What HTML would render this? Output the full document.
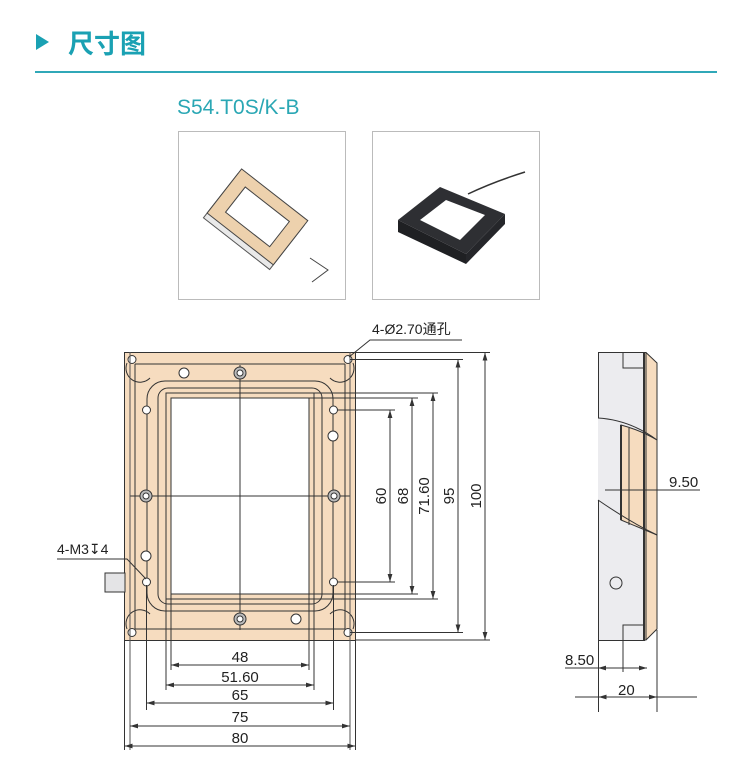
<!DOCTYPE html>
<html><head><meta charset="utf-8"><style>
html,body{margin:0;padding:0;background:#fff;width:750px;height:778px;overflow:hidden}
svg{display:block}
text{font-family:"Liberation Sans","Noto Sans CJK SC",sans-serif}
</style></head><body>
<svg width="750" height="778" viewBox="0 0 750 778" xmlns="http://www.w3.org/2000/svg">
<defs>
<marker id="a" viewBox="0 0 10 6" refX="10" refY="3" markerWidth="8" markerHeight="5" orient="auto-start-reverse"><path d="M0,0L10,3L0,6z" fill="#333"/></marker>
</defs>
<!-- header -->
<polygon points="36,34 36,50 49,42" fill="#1aa1b3"/>
<text x="68" y="53" font-size="26" font-weight="bold" fill="#1aa1b3" font-family="Noto Sans CJK SC,sans-serif">尺寸图</text>
<rect x="35" y="71" width="682" height="2" fill="#30a8b8"/>
<text x="177" y="114" font-size="21" fill="#2aa7b4">S54.T0S/K-B</text>
<!-- thumbnails -->
<rect x="178.5" y="131.5" width="167" height="168" fill="#fff" stroke="#bbb"/>
<rect x="372.5" y="131.5" width="167" height="168" fill="#fff" stroke="#bbb"/>
<g transform="translate(255,220) rotate(38)">
<rect x="-42" y="-26" width="84" height="56" fill="#e9e9e9" stroke="#555"/>
<rect x="-42" y="-32" width="84" height="56" fill="#edd1ad" stroke="#444"/>
<rect x="-28" y="-20" width="56" height="32" fill="#fff" stroke="#444"/>
</g>
<path d="M310,258 l18,12 l-16,12" fill="none" stroke="#444"/>
<polygon points="398,220 440,187 505,214 466,254" fill="#2e2f33"/>
<polygon points="398,220 466,254 466,264 398,232" fill="#1f2023"/>
<polygon points="466,254 505,214 505,224 466,264" fill="#25262a"/>
<polygon points="420,220 446,200 485,215 460,240" fill="#fff"/>
<path d="M468,194 q25,-12 57,-22" stroke="#333" stroke-width="1.5" fill="none"/>
<!-- main plate -->
<g stroke="#333" stroke-width="1" fill="none">
<rect x="124.5" y="352.5" width="231" height="288" fill="#f6dcbf"/>
<line x1="135" y1="364" x2="135" y2="629"/><line x1="345" y1="364" x2="345" y2="629"/>
<line x1="135" y1="364" x2="345" y2="364"/><line x1="135" y1="629" x2="345" y2="629"/>
<rect x="147" y="381" width="186" height="230" rx="18"/>
<rect x="158" y="388" width="164" height="216" rx="10"/>
<rect x="166" y="393" width="148" height="206"/>
<rect x="171" y="398" width="138" height="196" fill="#fff"/>
<line x1="240" y1="365" x2="240" y2="630"/>
<line x1="130" y1="496" x2="350" y2="496"/>
<g fill="#fff">
<circle cx="132" cy="359.5" r="4"/><circle cx="348" cy="359.5" r="4"/><circle cx="132" cy="632.5" r="4"/><circle cx="348" cy="632.5" r="4"/>
</g>
<path d="M127,363 A14,14 0 0 0 150,378 M353,363 A14,14 0 0 1 330,378 M127,629 A14,14 0 0 1 150,614 M353,629 A14,14 0 0 0 330,614"/>
<g fill="#fff">
<circle cx="146.5" cy="410" r="4"/><circle cx="333.5" cy="410" r="4"/><circle cx="146.5" cy="582" r="4"/><circle cx="333.5" cy="582" r="4"/>
</g>
<g fill="#bbb"><circle cx="240" cy="373" r="6"/><circle cx="240" cy="619" r="6"/><circle cx="146" cy="496" r="6"/><circle cx="334" cy="496" r="6"/></g>
<g fill="#fff"><circle cx="240" cy="373" r="3"/><circle cx="240" cy="619" r="3"/><circle cx="146" cy="496" r="3"/><circle cx="334" cy="496" r="3"/>
<circle cx="184" cy="373" r="5"/><circle cx="296" cy="619" r="5"/><circle cx="333" cy="436" r="5"/><circle cx="146" cy="556" r="5"/></g>
<line x1="130" y1="352" x2="130" y2="750" stroke="#555"/>
<line x1="350" y1="352" x2="350" y2="750" stroke="#555"/>
<line x1="124.5" y1="640" x2="124.5" y2="750"/><line x1="355.5" y1="640" x2="355.5" y2="750"/>
<line x1="146.5" y1="585" x2="146.5" y2="710"/><line x1="333.5" y1="585" x2="333.5" y2="710"/>
<line x1="166" y1="599" x2="166" y2="690"/><line x1="314" y1="599" x2="314" y2="690"/>
<line x1="171" y1="594" x2="171" y2="670"/><line x1="309" y1="594" x2="309" y2="670"/>
<line x1="337" y1="410" x2="395" y2="410"/><line x1="337" y1="582" x2="395" y2="582"/>
<line x1="309" y1="398" x2="418" y2="398"/><line x1="309" y1="594" x2="418" y2="594"/>
<line x1="314" y1="393" x2="438" y2="393"/><line x1="314" y1="599" x2="438" y2="599"/>
<line x1="350" y1="359.5" x2="463" y2="359.5"/><line x1="350" y1="632.5" x2="463" y2="632.5"/>
<line x1="355" y1="352.5" x2="490" y2="352.5"/><line x1="355" y1="640" x2="490" y2="640"/>
<g marker-start="url(#a)" marker-end="url(#a)">
<line x1="390" y1="410" x2="390" y2="582"/>
<line x1="412" y1="398" x2="412" y2="594"/>
<line x1="433" y1="393" x2="433" y2="599"/>
<line x1="458" y1="359.5" x2="458" y2="632.5"/>
<line x1="485" y1="352.5" x2="485" y2="640"/>
<line x1="171" y1="665" x2="309" y2="665"/>
<line x1="166" y1="685" x2="314" y2="685"/>
<line x1="146.5" y1="703" x2="333.5" y2="703"/>
<line x1="130" y1="726" x2="350" y2="726"/>
<line x1="124.5" y1="746" x2="355.5" y2="746"/>
</g>
<polyline points="462,340 370,340 349,357"/>
<polyline points="57,559 127,559 146,579"/>
<rect x="105" y="573" width="20" height="19" fill="#e4e4e6"/>
</g>
<g font-size="15" fill="#222" text-anchor="middle">
<text x="386" y="496" transform="rotate(-90 386 496)">60</text>
<text x="408" y="496" transform="rotate(-90 408 496)">68</text>
<text x="429" y="496" transform="rotate(-90 429 496)">71.60</text>
<text x="454" y="496" transform="rotate(-90 454 496)">95</text>
<text x="481" y="496" transform="rotate(-90 481 496)">100</text>
<text x="240" y="662">48</text>
<text x="240" y="682">51.60</text>
<text x="240" y="700">65</text>
<text x="240" y="722">75</text>
<text x="240" y="743">80</text>
</g>
<text x="372" y="334" font-size="14" fill="#222">4-Ø2.70通孔</text>
<text x="57" y="554" font-size="14" fill="#222">4-M3↧4</text>
<!-- side view -->
<g stroke="#333" stroke-width="1" fill="none">
<rect x="598.5" y="352.5" width="46" height="288" fill="#ececef"/>
<polygon points="644,352.5 646,352.5 657,363 657,629 646,640 644,640" fill="#f6dcbf"/>
<path d="M598,418 Q630,420 657,440 L657,535 Q630,522 598,500 Z" fill="#ececef" stroke="none"/>
<path d="M621,425 Q640,430 657,440 L657,535 Q640,528 621,520 Z" fill="#f6dcbf"/>
<path d="M598,418 Q630,420 657,440 M598,500 Q630,522 657,535"/>
<line x1="621" y1="425" x2="621" y2="520" stroke-width="2"/>
<line x1="629" y1="428" x2="629" y2="525"/>
<line x1="644" y1="352" x2="644" y2="640" stroke-width="2"/>
<line x1="646" y1="352" x2="646" y2="640"/>
<polyline points="623,352.5 623,368 644,368"/><polyline points="623,640 623,625 644,625"/>
<circle cx="616" cy="583" r="6"/>
<line x1="598.5" y1="640" x2="598.5" y2="712"/><line x1="657" y1="630" x2="657" y2="712"/>
<line x1="623" y1="640" x2="623" y2="672"/>
<line x1="605" y1="490" x2="700" y2="490"/>
<line x1="565" y1="668" x2="598" y2="668"/>
<line x1="598" y1="668" x2="647" y2="668" marker-start="url(#a)" marker-end="url(#a)"/>
<line x1="575" y1="697" x2="697" y2="697"/>
<line x1="598.5" y1="697" x2="657" y2="697" marker-start="url(#a)" marker-end="url(#a)"/>
</g>
<text x="669" y="487" font-size="15" fill="#222">9.50</text>
<text x="565" y="665" font-size="15" fill="#222">8.50</text>
<text x="618" y="695" font-size="15" fill="#222">20</text>
</svg>
</body></html>
